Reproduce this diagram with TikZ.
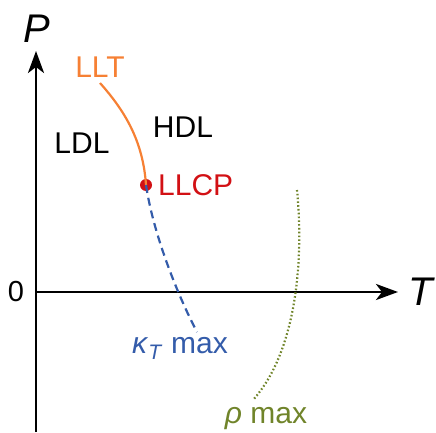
\documentclass[tikz,border=0pt]{standalone}
\usepackage{fontspec}
\setmainfont{Liberation Sans}
\usetikzlibrary{arrows.meta}
\definecolor{lltorange}{RGB}{246,128,52}
\definecolor{llcpred}{RGB}{210,16,20}
\definecolor{kapblue}{RGB}{52,92,170}
\definecolor{rhogreen}{RGB}{112,132,42}

\begin{document}
\begin{tikzpicture}[
      x=1pt, y=1pt,
      axis/.style={-{Stealth[length=22pt,width=16pt,inset=6pt]}, line width=2.8pt},
      lbl/.style={font=\fontsize{30}{36}\selectfont, inner sep=0pt},
      axlbl/.style={font=\fontsize{40}{46}\selectfont\itshape, inner sep=0pt},
      curve/.style={line width=2.2pt}
    ]
      \useasboundingbox (0,0) rectangle (436,432);

      % axes
      \coordinate (origin) at (36,140);
      \coordinate (pbot) at (36,0);
      \coordinate (ptop) at (36,381);
      \coordinate (tend) at (398,140);
      \draw[axis] (pbot) -- (ptop);
      \draw[axis] (origin) -- (tend);
      \node[axlbl] (plbl) at (37,403) {P};
      \node[axlbl] (tlbl) at (421,140) {T};
      \node[lbl, font=\fontsize{29}{34}\selectfont] (zero) at (16,140) {0};

      % phases
      \node[lbl] (ldl) at (82,289) {LDL};
      \node[lbl] (hdl) at (183,305) {HDL};

      % liquid-liquid transition line
      \node[lbl, text=lltorange] (llt) at (100,365) {LLT};
      \coordinate (lltend) at (100,349);
      \node[circle, fill=llcpred, inner sep=0pt, minimum size=12pt] (llcp) at (146,247) {};
      \node[lbl, text=llcpred, anchor=west] (llcplbl) at (158,247) {LLCP};
      \draw[curve, color=lltorange] (lltend) .. controls (124,322) and (143,292) .. (llcp.center);

      % compressibility maximum
      \coordinate (kapend) at (197,100);
      \draw[curve, color=kapblue, dash pattern=on 8pt off 5pt] (llcp.center) .. controls (153,200) and (176,140) .. (kapend);
      \node[lbl, text=kapblue] (kaplbl) at (180,84) {\textit{κ}\textsubscript{\textit{T}} max};

      % density maximum
      \coordinate (rhotop) at (297,242);
      \coordinate (rhoend) at (253,32);
      \draw[curve, color=rhogreen, dash pattern=on 1.6pt off 2.2pt] (rhotop) .. controls (304,170) and (296,80) .. (rhoend);
      \node[lbl, text=rhogreen] (rholbl) at (266,13) {\textit{ρ} max};
    \end{tikzpicture}
\end{document}
